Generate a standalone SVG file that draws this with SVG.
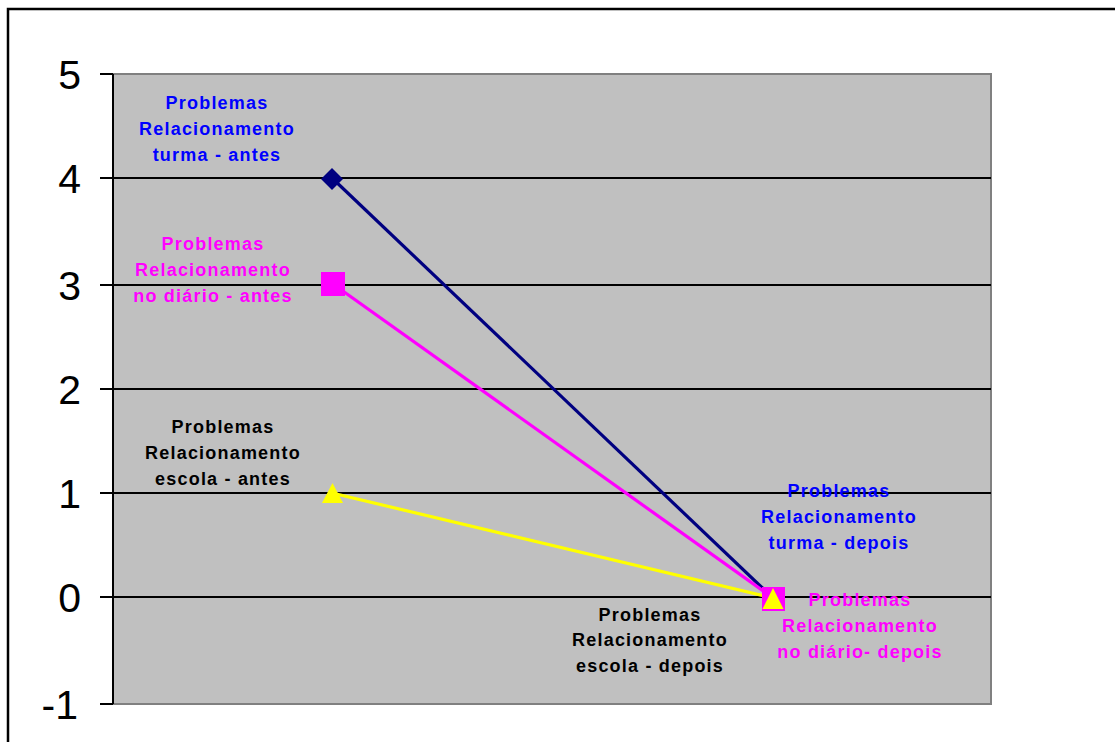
<svg xmlns="http://www.w3.org/2000/svg" width="1115" height="742" viewBox="0 0 1115 742">
<style>
.ax{font-family:"Liberation Sans",Arial,sans-serif;font-size:41px;text-anchor:end;fill:#000}
.lb{font-family:"Liberation Sans",Arial,sans-serif;font-size:18px;font-weight:bold;letter-spacing:1.2px;text-anchor:middle}
.grid{stroke:#000;stroke-width:2}
.ser{fill:none;stroke-width:3.2}
</style>
<rect width="1115" height="742" fill="#fff"/>
<path d="M8,742 V9 H1115" fill="none" stroke="#000" stroke-width="2.5"/>
<g id="plot">
<rect x="113" y="74" width="878" height="630" fill="#C0C0C0"/>
<path d="M113,74 H991 V704 H113" fill="none" stroke="#808080" stroke-width="2"/>
</g>
<g id="gridlines">
<line class="grid" x1="100" y1="74" x2="113" y2="74"/>
<line class="grid" x1="100" y1="178" x2="991" y2="178"/>
<line class="grid" x1="100" y1="285" x2="991" y2="285"/>
<line class="grid" x1="100" y1="389" x2="991" y2="389"/>
<line class="grid" x1="100" y1="493" x2="991" y2="493"/>
<line class="grid" x1="100" y1="597" x2="991" y2="597"/>
<line class="grid" x1="100" y1="704" x2="113" y2="704"/>
<line class="grid" x1="113" y1="74" x2="113" y2="704"/>
</g>
<g id="axis-labels">
<text class="ax" x="81" y="89">5</text>
<text class="ax" x="81" y="193">4</text>
<text class="ax" x="81" y="300">3</text>
<text class="ax" x="81" y="404">2</text>
<text class="ax" x="81" y="508">1</text>
<text class="ax" x="81" y="612">0</text>
<text class="ax" x="78" y="719">-1</text>
</g>
<g id="connectors">
<line class="ser" x1="332" y1="178" x2="773" y2="598" stroke="#000080"/>
<line class="ser" x1="333" y1="284" x2="773" y2="598" stroke="#FF00FF"/>
<line class="ser" x1="332" y1="493" x2="773" y2="598" stroke="#FFFF00"/>
</g>
<g id="node-turma-antes">
<polygon points="332,168 343,179 332,190 321,179" fill="#000080"/>
<text class="lb" fill="#0000FF"><tspan x="217" y="109">Problemas</tspan><tspan x="217" y="135">Relacionamento</tspan><tspan x="217" y="161">turma - antes</tspan></text>
</g>
<g id="node-diario-antes">
<rect x="321" y="272" width="24" height="24" fill="#FF00FF"/>
<text class="lb" fill="#FF00FF"><tspan x="213" y="250">Problemas</tspan><tspan x="213" y="276">Relacionamento</tspan><tspan x="213" y="302">no diário - antes</tspan></text>
</g>
<g id="node-escola-antes">
<polygon points="332.5,483 343,503 322,503" fill="#FFFF00"/>
<text class="lb" fill="#000"><tspan x="223" y="433">Problemas</tspan><tspan x="223" y="459">Relacionamento</tspan><tspan x="223" y="485">escola - antes</tspan></text>
</g>
<g id="node-turma-depois">
<polygon points="773,588 784,599 773,610 762,599" fill="#000080"/>
<text class="lb" fill="#0000FF"><tspan x="839" y="497">Problemas</tspan><tspan x="839" y="523">Relacionamento</tspan><tspan x="839" y="549">turma - depois</tspan></text>
</g>
<g id="node-diario-depois">
<rect x="762" y="587" width="23" height="24" fill="#FF00FF"/>
<text class="lb" fill="#FF00FF"><tspan x="860" y="606">Problemas</tspan><tspan x="860" y="632">Relacionamento</tspan><tspan x="860" y="658">no diário- depois</tspan></text>
</g>
<g id="node-escola-depois">
<polygon points="773,588 783.5,609 762.5,609" fill="#FFFF00"/>
<text class="lb" fill="#000"><tspan x="650" y="621">Problemas</tspan><tspan x="650" y="646">Relacionamento</tspan><tspan x="650" y="672">escola - depois</tspan></text>
</g>
</svg>
